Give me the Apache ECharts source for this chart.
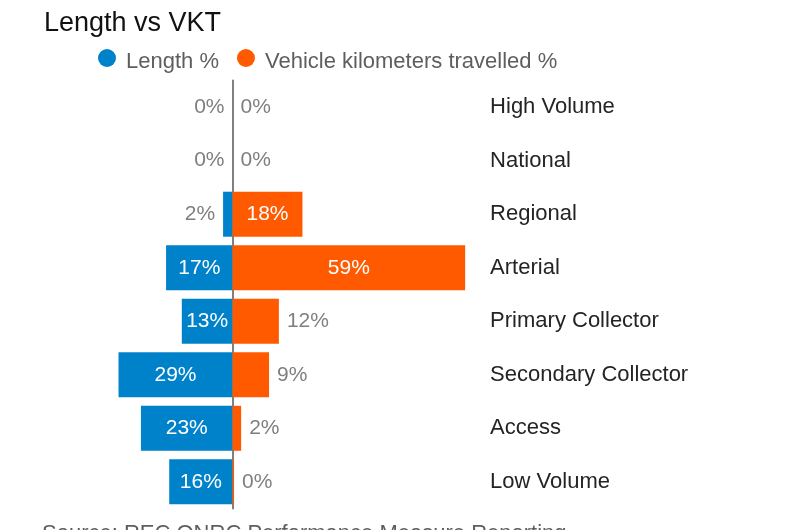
<!DOCTYPE html>
<html>
<head>
<meta charset="utf-8">
<title>Length vs VKT</title>
<script src="https://cdn.jsdelivr.net/npm/echarts@6/dist/echarts.min.js"></script>
<style>
  html, body { margin: 0; padding: 0; background: #ffffff; }
  #chart { width: 789px; height: 530px; }
</style>
</head>
<body>
<div id="chart"></div>
<script>
// Road classes, top to bottom
const categories = ['High Volume', 'National', 'Regional', 'Arterial', 'Primary Collector', 'Secondary Collector', 'Access', 'Low Volume'];
// Share of network length (%), drawn to the left of the axis
const lengthPct = [0, 0, 2.4, 16.9, 12.9, 29.0, 23.3, 16.1];
// Share of vehicle kilometres travelled (%), drawn to the right of the axis
const vktPct = [0, 0, 17.8, 59.2, 11.8, 9.3, 2.2, 0.4];
const seriesNames = ['Length %', 'Vehicle kilometers travelled %'];
const sourceNote = 'Source: REC ONRC Performance Measure Reporting';

const FONT = '"Liberation Sans", Arial, sans-serif';
const BLUE = '#0082CA';
const ORANGE = '#FF5A00';
const INSIDE_MIN = 12.5;   // bars at least this wide carry their label inside

function barData(values, sign, outsidePos) {
  return values.map(v => {
    const inside = v >= INSIDE_MIN;
    return {
      value: sign * v,
      label: {
        position: inside ? 'inside' : outsidePos,
        color: inside ? '#ffffff' : '#7F7F7F'
      }
    };
  });
}

const pctLabel = p => Math.round(Math.abs(p.value)) + '%';

const chart = echarts.init(document.getElementById('chart'), null, { renderer: 'canvas' });

chart.setOption({
  animation: false,
  backgroundColor: '#ffffff',
  title: {
    text: 'Length vs VKT',
    left: 39,
    top: 5,
    textStyle: { fontFamily: FONT, fontSize: 27, fontWeight: 'normal', color: '#111111' }
  },
  legend: {
    left: 93,
    top: 44,
    icon: 'circle',
    itemWidth: 28,
    itemHeight: 18,
    itemGap: 18,
    selectedMode: false,
    formatter: '{t|{name}}',
    textStyle: {
      fontFamily: FONT,
      fontSize: 22,
      color: '#605E5C',
      rich: {
        // extra top padding drops the legend text a little below the dot centre
        t: { fontFamily: FONT, fontSize: 22, color: '#605E5C', padding: [8, 0, 0, 0] }
      }
    },
    data: seriesNames
  },
  grid: { left: 75.3, width: 404.8, top: 80.4, height: 428.2, containLabel: false },
  xAxis: {
    type: 'value',
    min: -40,
    max: 63,
    show: false
  },
  yAxis: [
    {
      type: 'category',
      data: categories,
      inverse: true,
      axisLine: { show: true, onZero: true, lineStyle: { color: '#808080', width: 2 } },
      axisTick: { show: false },
      axisLabel: { show: false },
      splitLine: { show: false }
    },
    {
      type: 'category',
      data: categories,
      inverse: true,
      position: 'right',
      axisLine: { show: false, onZero: false },
      axisTick: { show: false },
      splitLine: { show: false },
      axisLabel: {
        show: true,
        margin: 10,
        align: 'left',
        fontFamily: FONT,
        fontSize: 22,
        color: '#252423'
      }
    }
  ],
  series: [
    {
      name: seriesNames[0],
      type: 'bar',
      stack: 'share',
      yAxisIndex: 0,
      barWidth: 45,
      itemStyle: { color: BLUE },
      label: { show: true, distance: 8, fontFamily: FONT, fontSize: 21, formatter: pctLabel },
      data: barData(lengthPct, -1, 'left')
    },
    {
      name: seriesNames[1],
      type: 'bar',
      stack: 'share',
      yAxisIndex: 0,
      barWidth: 45,
      itemStyle: { color: ORANGE },
      label: { show: true, distance: 8, fontFamily: FONT, fontSize: 21, formatter: pctLabel },
      data: barData(vktPct, 1, 'right')
    }
  ],
  graphic: [
    {
      type: 'text',
      left: 42,
      top: 523,
      style: { text: sourceNote, fontFamily: FONT, fontSize: 22, fill: '#605E5C' }
    }
  ]
});
</script>
</body>
</html>
